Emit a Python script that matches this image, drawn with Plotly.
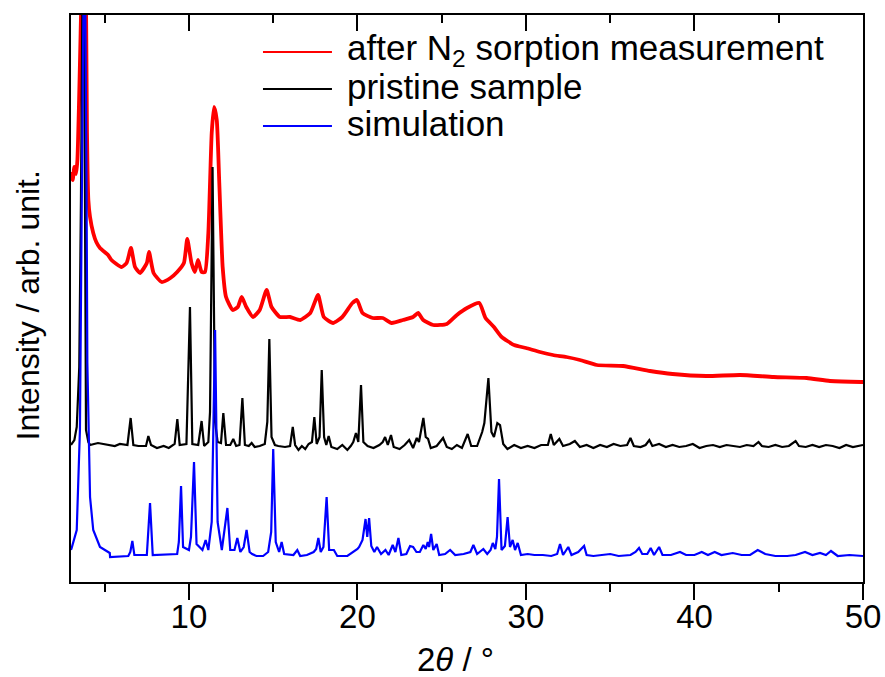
import plotly.graph_objects as go

# ---- data (2theta in degrees, intensity in arbitrary units; curves are offset) ----
red_x = [3.0, 3.1, 3.2, 3.3, 3.38, 3.48, 3.57, 3.78, 3.9, 3.95, 4.03, 4.13, 4.32, 4.5, 4.72, 5.2, 5.4, 6.0, 6.3,
         6.56, 6.8, 7.1, 7.5, 7.63, 7.9, 8.38, 8.9, 9.3, 9.7, 9.9, 10.15, 10.35, 10.54, 10.75, 10.95,
         11.15, 11.35, 11.49, 11.65, 11.8, 12.0, 12.2, 12.6, 12.9, 13.13, 13.4, 13.8, 14.2, 14.61, 14.9,
         15.4, 16.0, 16.6, 17.2, 17.66, 18.0, 18.55, 19.1, 19.7, 19.97, 20.3, 20.9, 21.5, 22.03, 22.7,
         23.3, 23.6, 23.9, 24.5, 25.3, 25.9, 26.5, 27.23, 27.6, 28.1, 28.56, 29.3, 30.0, 30.83, 31.6,
         32.4, 33.2, 34.2, 35.76, 37.36, 38.7, 40.7, 42.7, 44.7, 46.66, 48.04, 49.9, 50.0]
red_y = [410, 402, 415, 408, 422, 482, 549, 700, 560, 449, 382, 365, 349, 340, 334, 327, 322, 315, 319,
         334, 315, 309, 319, 330, 309, 300, 304, 310, 319, 343, 319, 310, 322, 310, 310,
         349, 449, 475, 462, 399, 315, 285, 272, 275, 285, 275, 265, 272, 292, 275,
         265, 265, 262, 269, 287, 265, 259, 265, 279, 282, 269, 264, 264, 259, 262,
         265, 269, 262, 257, 258, 267, 274, 279, 264, 255, 245, 237, 234, 230, 227,
         225, 222, 217, 216, 211, 208, 206, 207, 205, 204, 201, 200, 200]

black_x = [3.0, 3.2, 3.34, 3.49, 3.59, 3.73, 3.83, 3.89, 4.03, 4.13, 4.6, 5.2, 5.6, 5.9, 6.35, 6.54, 6.7,
           7.0, 7.45, 7.59, 7.75, 8.1, 8.5, 8.8, 9.15, 9.31, 9.45, 9.85, 10.06, 10.2, 10.55, 10.75, 10.9,
           11.15, 11.25, 11.4, 11.55, 11.7, 11.9, 12.04, 12.2, 12.45, 12.63, 12.8, 13.0, 13.17, 13.32,
           13.55, 13.72, 13.9, 14.2, 14.5, 14.65, 14.77, 14.9, 15.1, 15.3, 15.7, 16.0, 16.16, 16.3, 16.5,
           16.7, 16.9, 17.1, 17.3, 17.44, 17.58, 17.75, 17.88, 18.02, 18.15, 18.29, 18.45, 18.8, 19.1,
           19.4, 19.6, 19.75, 19.91, 20.05, 20.21, 20.35, 20.6, 20.95, 21.3, 21.5, 21.64, 21.8, 21.99,
           22.15, 22.5, 22.8, 23.07, 23.3, 23.52, 23.65, 23.91, 24.05, 24.19, 24.35, 24.7, 25.08, 25.3,
           25.6, 25.9, 26.2, 26.54, 26.75, 27.1, 27.4, 27.53, 27.77, 27.95, 28.1, 28.3, 28.46, 28.65,
           28.9, 29.3, 29.7, 30.1, 30.5, 30.9, 31.3, 31.47, 31.65, 31.98, 32.2, 32.6, 32.9, 33.2, 33.6,
           34.0, 34.4, 34.8, 35.2, 35.6, 36.0, 36.2, 36.4, 36.8, 37.1, 37.32, 37.5, 37.9, 38.3, 38.7,
           39.1, 39.5, 39.9, 40.3, 40.7, 41.1, 41.5, 41.9, 42.3, 42.7, 43.1, 43.5, 43.8, 44.0, 44.4,
           44.8, 45.2, 45.6, 46.0, 46.2, 46.6, 47.0, 47.4, 47.8, 48.2, 48.6, 49.0, 49.4, 50.0]
black_y = [137, 142, 155, 215, 382, 700, 380, 152, 140, 137, 139, 137, 136, 138, 137, 164, 137,
           136, 136, 146, 137, 134, 136, 134, 138, 163, 137, 138, 275, 138, 137, 161, 136,
           140, 170, 415, 160, 140, 139, 169, 137, 137, 143, 136, 137, 184, 137,
           136, 139, 135, 136, 138, 160, 243, 145, 137, 136, 135, 136, 155, 137, 132,
           136, 133, 138, 140, 165, 138, 145, 212, 145, 137, 146, 135, 133, 137,
           132, 136, 140, 149, 140, 197, 140, 136, 134, 137, 140, 145, 137, 147,
           135, 133, 137, 142, 134, 144, 140, 164, 145, 143, 134, 136, 144, 135,
           133, 137, 134, 148, 136, 136, 150, 159, 204, 150, 145, 159, 157, 138,
           133, 137, 134, 136, 134, 137, 137, 148, 137, 143, 136, 138, 141, 135, 137,
           134, 137, 135, 138, 136, 137, 144, 136, 135, 137, 142, 136, 138, 135, 137,
           135, 136, 138, 134, 136, 137, 135, 137, 136, 135, 137, 136, 140, 136, 135,
           137, 135, 136, 141, 136, 135, 137, 135, 137, 136, 134, 137, 135, 137]

blue_x = [3.0, 3.04, 3.34, 3.53, 3.65, 3.8, 3.92, 3.97, 4.13, 4.32, 4.72, 5.21, 5.3, 5.32, 6.4, 6.52,
          6.64, 6.76, 7.5, 7.69, 7.85, 9.3, 9.4, 9.53, 9.65, 10.0, 10.12, 10.30, 10.45, 10.8, 10.99,
          11.15, 11.35, 11.55, 11.7, 11.95, 12.28, 12.45, 12.7, 12.87, 13.05, 13.25, 13.42, 13.6, 13.75,
          14.0, 14.4, 14.7, 14.88, 15.0, 15.15, 15.35, 15.5, 15.65, 16.2, 16.43, 16.6, 17.0, 17.4, 17.55,
          17.68, 17.82, 17.98, 18.17, 18.32, 18.6, 18.8, 19.4, 19.75, 20.0, 20.1, 20.3, 20.48, 20.58,
          20.69, 20.82, 21.0, 21.16, 21.4, 21.66, 21.85, 22.09, 22.25, 22.43, 22.6, 22.9, 23.12, 23.3,
          23.5, 23.7, 23.91, 24.05, 24.17, 24.25, 24.37, 24.5, 24.7, 24.85, 25.2, 25.5, 25.8, 26.3,
          26.7, 26.88, 27.1, 27.47, 27.7, 27.9, 28.03, 28.18, 28.28, 28.40, 28.55, 28.75, 28.91, 29.05,
          29.21, 29.35, 29.51, 29.7, 30.1, 30.5, 31.0, 31.5, 31.85, 32.02, 32.2, 32.51, 32.7, 33.1,
          33.45, 33.6, 34.0, 34.5, 35.0, 35.5, 36.2, 36.5, 36.71, 36.9, 37.2, 37.4, 37.6, 37.9, 38.1,
          38.6, 39.14, 39.5, 40.0, 40.43, 40.8, 41.2, 41.6, 42.27, 42.8, 43.3, 43.75, 44.2, 44.8, 45.5,
          46.0, 46.56, 47.0, 47.45, 47.8, 48.1, 48.5, 49.2, 50.0]
blue_y = [32, 34, 52, 152, 400, 700, 400, 219, 85, 52, 35, 30, 29, 25, 26, 30,
          41, 27, 27, 79, 27, 28, 40, 96, 35, 32, 45, 120, 38, 32, 42,
          32, 60, 252, 60, 32, 74, 32, 32, 44, 30, 35, 52, 30, 28,
          26, 26, 30, 50, 133, 40, 30, 40, 28, 27, 32, 26, 27, 30, 33,
          44, 30, 35, 85, 32, 32, 26, 26, 30, 33, 35, 42, 63, 45,
          64, 36, 30, 35, 28, 32, 27, 37, 30, 44, 27, 28, 36, 35,
          30, 30, 37, 33, 40, 35, 48, 32, 38, 27, 28, 32, 27, 28,
          30, 37, 28, 33, 28, 32, 39, 33, 45, 103, 32, 36, 65, 35,
          42, 32, 39, 27, 28, 27, 27, 26, 28, 38, 27, 35, 27, 30,
          36, 27, 26, 27, 28, 26, 27, 30, 34, 28, 28, 34, 27, 35, 27,
          27, 30, 27, 27, 30, 27, 30, 27, 29, 27, 27, 32, 28, 26, 26,
          27, 30, 27, 29, 27, 31, 26, 27, 26]

series_names = ["after N<sub>2</sub> sorption measurement", "pristine sample", "simulation"]
series_colors = ["#FF0000", "#000000", "#0000FF"]
x_ticks = [10, 20, 30, 40, 50]
x_minor = [5, 15, 25, 35, 45]

FONT = "Liberation Sans, Arial, sans-serif"

fig = go.Figure()
fig.add_trace(go.Scatter(x=red_x, y=red_y, mode="lines", name=series_names[0], showlegend=False,
                         line=dict(color=series_colors[0], width=3.8, shape="spline", smoothing=0.5)))
fig.add_trace(go.Scatter(x=black_x, y=black_y, mode="lines", name=series_names[1], showlegend=False,
                         line=dict(color=series_colors[1], width=2.2)))
fig.add_trace(go.Scatter(x=blue_x, y=blue_y, mode="lines", name=series_names[2], showlegend=False,
                         line=dict(color=series_colors[2], width=2.2)))
# invisible helper trace so that the top (mirrored, inward-ticked) axis is drawn
fig.add_trace(go.Scatter(x=[None], y=[None], xaxis="x2", showlegend=False, hoverinfo="skip"))

# legend drawn as line samples + text (placement in paper coordinates)
leg_x0, leg_x1, leg_tx = 0.2424, 0.3295, 0.3465
leg_rows = [0.9347, 0.8695, 0.8042]
for name, col, yy in zip(series_names, series_colors, leg_rows):
    fig.add_shape(type="line", xref="paper", yref="paper", x0=leg_x0, x1=leg_x1, y0=yy, y1=yy,
                  line=dict(color=col, width=2))
    fig.add_annotation(text=name, xref="paper", yref="paper", x=leg_tx, y=yy + 0.004,
                       xanchor="left", yanchor="middle", showarrow=False,
                       font=dict(family=FONT, size=35, color="black"))

# axis titles
fig.add_annotation(text="2<i>θ</i> / °", xref="paper", yref="paper", x=0.485, y=-0.136,
                   xanchor="center", yanchor="middle", showarrow=False,
                   font=dict(family=FONT, size=33, color="black"))
fig.add_annotation(text="Intensity / arb. unit.", xref="paper", yref="paper", x=-0.0537, y=0.4885,
                   xanchor="center", yanchor="middle", textangle=-90, showarrow=False,
                   font=dict(family=FONT, size=32, color="black"))

fig.update_layout(
    width=885, height=677,
    margin=dict(l=71, r=22, t=15, b=95, autoexpand=False),
    paper_bgcolor="white", plot_bgcolor="white",
    font=dict(family=FONT, size=33, color="black"),
    showlegend=False,
    xaxis=dict(range=[3, 50], tickmode="array", tickvals=x_ticks, ticktext=[str(v) for v in x_ticks],
               ticks="outside", ticklen=16, tickwidth=2, tickcolor="black",
               ticklabelstandoff=-12,
               showline=True, linecolor="black", linewidth=2, mirror=True,
               showgrid=False, zeroline=False, automargin=False,
               minor=dict(tickvals=x_minor, ticks="outside", ticklen=8, tickwidth=2,
                          tickcolor="black", showgrid=False),
               tickfont=dict(family=FONT, size=33, color="black")),
    xaxis2=dict(range=[3, 50], overlaying="x", side="top", matches="x",
                tickmode="array", tickvals=x_ticks, showticklabels=False,
                ticks="inside", ticklen=16, tickwidth=2, tickcolor="black",
                showline=False, showgrid=False, zeroline=False,
                minor=dict(tickvals=x_minor, ticks="inside", ticklen=8, tickwidth=2,
                           tickcolor="black", showgrid=False)),
    yaxis=dict(range=[0, 567], showticklabels=False, ticks="", automargin=False,
               showline=True, linecolor="black", linewidth=2, mirror=True,
               showgrid=False, zeroline=False),
)

fig.write_html("out.html")
